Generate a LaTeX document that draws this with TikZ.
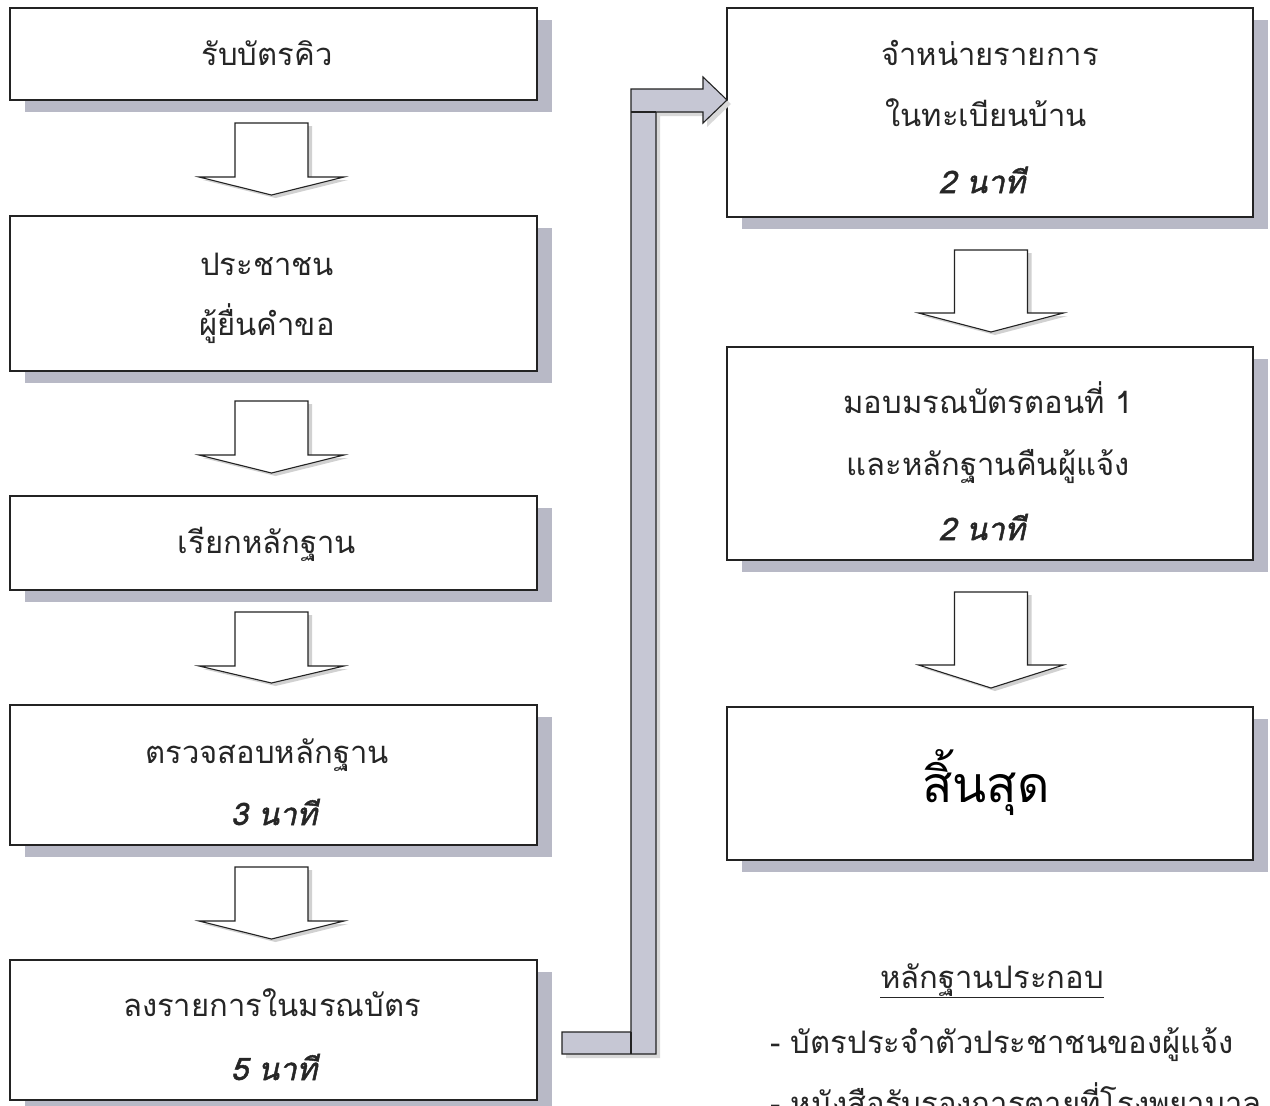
\documentclass[tikz,border=0pt]{standalone}
\usepackage{fontspec}
\newfontfamily\thai[Script=Thai]{Loma}
\newfontfamily\thaibi[Script=Thai,FakeSlant=0.22,FakeBold=1.6]{Loma}
\usetikzlibrary{shadows}
\definecolor{shadowc}{RGB}{184,185,198}
\definecolor{pipec}{RGB}{198,199,212}
\definecolor{linec}{RGB}{35,35,35}
\tikzset{
  stepbox/.style={draw=linec, line width=1.5pt, fill=white, rectangle, inner sep=0pt, outer sep=0pt,
    anchor=north west,
    drop shadow={shadow xshift=15pt, shadow yshift=-12pt, fill=shadowc, opacity=1}},
  txt/.style={font=\thai\fontsize{31}{31}\selectfont, text=black!85, anchor=base, inner sep=0pt},
  tim/.style={font=\thaibi\fontsize{31}{31}\selectfont, text=black!85, anchor=base, inner sep=0pt},
  blockarr/.style={draw=linec, line width=1.1pt, fill=white, line join=miter},
  arrshadow/.style={fill=black!18},
  pipe/.style={draw=linec, line width=1.1pt, fill=pipec, line join=miter},
}
\newcommand{\blockarrow}[4]{% center x, shaft top, head base, tip
  \fill[arrshadow] ({#1-36.5+4},{#2+3}) -- ({#1+36.5+4},{#2+3}) -- ({#1+36.5+4},{#3+3}) -- ({#1+72.5+4},{#3+3}) -- ({#1+4},{#4+3}) -- ({#1-72.5+4},{#3+3}) -- ({#1-36.5+4},{#3+3}) -- cycle;
  \draw[blockarr] ({#1-36.5},#2) -- ({#1+36.5},#2) -- ({#1+36.5},#3) -- ({#1+72.5},#3) -- (#1,#4) -- ({#1-72.5},#3) -- ({#1-36.5},#3) -- cycle;
}
\begin{document}
\begin{tikzpicture}[x=1pt,y=-1pt]
\useasboundingbox[fill=white] (0,0) rectangle (1270,1106);

% left column boxes
\node[stepbox, minimum width=527pt, minimum height=92pt]  (l1) at (10,8) {};
\node[stepbox, minimum width=527pt, minimum height=155pt] (l2) at (10,216) {};
\node[stepbox, minimum width=527pt, minimum height=94pt]  (l3) at (10,496) {};
\node[stepbox, minimum width=527pt, minimum height=140pt] (l4) at (10,705) {};
\node[stepbox, minimum width=527pt, minimum height=140pt] (l5) at (10,960) {};
% right column boxes
\node[stepbox, minimum width=526pt, minimum height=209pt] (r1) at (727,8) {};
\node[stepbox, minimum width=526pt, minimum height=213pt] (r2) at (727,347) {};
\node[stepbox, minimum width=526pt, minimum height=153pt] (r3) at (727,707) {};

% texts
\node[txt] (t1) at (267,65) {รับบัตรคิว};
\node[txt] (t2a) at (267,275) {ประชาชน};
\node[txt] (t2b) at (267,335) {ผู้ยื่นคำขอ};
\node[txt] (t3) at (267,553) {เรียกหลักฐาน};
\node[txt] (t4a) at (267,763) {ตรวจสอบหลักฐาน};
\node[tim] (t4b) at (274,825) {3\hspace{10pt}นาที};
\node[txt] (t5a) at (272,1016) {ลงรายการในมรณบัตร};
\node[tim] (t5b) at (274,1080) {5\hspace{10pt}นาที};
\node[txt] (r1a) at (990,65) {จำหน่ายรายการ};
\node[txt] (r1b) at (986,126) {ในทะเบียนบ้าน};
\node[tim] (r1c) at (982,193) {2\hspace{10pt}นาที};
\node[txt] (r2a) at (988,413) {มอบมรณบัตรตอนที่ 1};
\node[txt] (r2b) at (988,475) {และหลักฐานคืนผู้แจ้ง};
\node[tim] (r2c) at (982,540) {2\hspace{10pt}นาที};
\node[font=\thai\fontsize{50}{50}\selectfont, anchor=base, inner sep=0pt] (r3a) at (986,802) {สิ้นสุด};

% block arrows between boxes
\blockarrow{271.5}{123}{177}{195}
\blockarrow{271.5}{401}{455}{473}
\blockarrow{271.5}{612}{666}{683}
\blockarrow{271.5}{867}{921}{939}
\blockarrow{991}{250}{313}{332}
\blockarrow{991}{592}{665}{688}

% pipe connector from l5 to r1
\coordinate (pstart) at (562,1043);
\coordinate (pend) at (727,100);
\fill[black!15] (635,93) -- (707,93) -- (707,81) -- (731,104) -- (707,127) -- (707,116) -- (660,116) -- (660,1058) -- (566,1058) -- (566,1036) -- (635,1036) -- cycle;
\draw[pipe] (631,89) -- (703,89) -- (703,77) -- (pend) -- (703,123) -- (703,112) -- (656,112) -- (656,1054) -- (562,1054) -- (562,1032) -- (631,1032) -- cycle;
\draw[linec, line width=1.1pt] (631,112) -- (656,112);
\draw[linec, line width=1.1pt] (631,1032) -- (631,1054);

% evidence list
\node[txt] (ev) at (992,988) {\underline{หลักฐานประกอบ}};
\node[txt, anchor=base west] (ev1) at (770,1053) {- บัตรประจำตัวประชาชนของผู้แจ้ง};
\node[txt, anchor=base west] (ev2) at (770,1114) {- หนังสือรับรองการตายที่โรงพยาบาล};
\end{tikzpicture}
\end{document}
